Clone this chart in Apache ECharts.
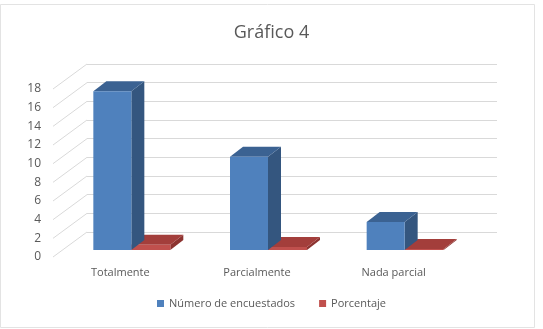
<!DOCTYPE html>
<html>
<head>
<meta charset="utf-8">
<script src="https://cdn.jsdelivr.net/npm/echarts@6/dist/echarts.min.js"></script>
<style>
  html, body { margin: 0; padding: 0; background: #fff; }
  #chart { width: 543px; height: 329px; }
</style>
</head>
<body>
<div id="chart"></div>
<script>
var categories = ['Totalmente', 'Parcialmente', 'Nada parcial'];
var encuestados = [17, 10, 3];
var porcentaje = [0.57, 0.33, 0.1];
var yTicks = [0, 2, 4, 6, 8, 10, 12, 14, 16, 18];

var chart = echarts.init(document.getElementById('chart'));

// bar drawn as a 3D box: front face + top + right side
function box(api, idx, value, left, width, colors) {
    var p = api.coord([idx, value]);
    var b = api.coord([idx, 0]);
    var dx = 13, dy = -10;
    var x0 = p[0] - 24 + left, x1 = x0 + width;
    var yt = p[1] + 18, yb = b[1] + 18;
    return {
        type: 'group',
        children: [
            { type: 'polygon', shape: { points: [[x1, yt], [x1 + dx, yt + dy], [x1 + dx, yb + dy], [x1, yb]] }, style: { fill: colors[1] } },
            { type: 'polygon', shape: { points: [[x0, yt], [x1, yt], [x1 + dx, yt + dy], [x0 + dx, yt + dy]] }, style: { fill: colors[2] } },
            { type: 'rect', shape: { x: x0, y: yt, width: width, height: Math.max(yb - yt, 0.5) }, style: { fill: colors[0] } }
        ]
    };
}

var option = {
    title: {
        text: 'Gráfico 4',
        left: 'center',
        top: 19,
        textStyle: { fontFamily: 'Open Sans', fontSize: 18, fontWeight: 'normal', color: '#595959' }
    },
    legend: {
        bottom: 15,
        left: 'center',
        itemWidth: 7,
        itemHeight: 7,
        itemGap: 24,
        icon: 'rect',
        textStyle: { fontFamily: 'Open Sans', fontSize: 11, color: '#595959' },
        data: [
            { name: 'Número de encuestados', itemStyle: { color: '#4f81bd' } },
            { name: 'Porcentaje', itemStyle: { color: '#c0504d' } }
        ]
    },
    graphic: [{
        type: 'rect',
        shape: { x: 0.5, y: 4.5, width: 534, height: 323 },
        style: { fill: 'none', stroke: '#e3e3e3', lineWidth: 1 },
        z: -1
    }],
    grid: [
        { left: 87, right: 46, top: 64, bottom: 97 },   // back wall
        { left: 53, right: 80, top: 89, bottom: 72 }    // front plane, for the value labels
    ],
    xAxis: [
        {
            type: 'category',
            gridIndex: 0,
            data: categories,
            axisLine: { show: false },
            axisTick: { show: false },
            axisLabel: {
                margin: 35,
                padding: [0, 70, 0, 0],
                fontFamily: 'Open Sans',
                fontSize: 11,
                color: '#595959'
            }
        },
        { type: 'category', gridIndex: 1, data: categories, show: false }
    ],
    yAxis: [
        {
            type: 'value',
            gridIndex: 0,
            min: 0,
            max: 18,
            interval: 2,
            axisLine: { show: false },
            axisTick: { show: false },
            axisLabel: { show: false },
            splitLine: { lineStyle: { color: '#d9d9d9', width: 1 } }
        },
        {
            type: 'value',
            gridIndex: 1,
            min: 0,
            max: 18,
            interval: 2,
            axisLine: { show: false },
            axisTick: { show: false },
            splitLine: { show: false },
            axisLabel: {
                margin: 12,
                fontFamily: 'Open Sans',
                fontSize: 12,
                color: '#595959'
            }
        }
    ],
    series: [
        {
            // side wall lines from the front labels to the back wall
            type: 'custom',
            silent: true,
            data: yTicks,
            encode: { x: -1, y: 0 },
            renderItem: function (params, api) {
                var p = api.coord([0, api.value(0)]);
                var x = params.coordSys.x;
                return {
                    type: 'line',
                    shape: { x1: x - 34, y1: p[1] + 25, x2: x, y2: p[1] },
                    style: { stroke: '#d9d9d9', lineWidth: 1 }
                };
            },
            z: 1
        },
        {
            name: 'Número de encuestados',
            type: 'custom',
            data: encuestados.map(function (v, i) { return [i, v]; }),
            itemStyle: { color: '#4f81bd' },
            renderItem: function (params, api) {
                return box(api, api.value(0), api.value(1), -38, 38, ['#4f81bd', '#34567f', '#3b6292']);
            },
            z: 3
        },
        {
            name: 'Porcentaje',
            type: 'custom',
            data: porcentaje.map(function (v, i) { return [i, v]; }),
            itemStyle: { color: '#c0504d' },
            renderItem: function (params, api) {
                return box(api, api.value(0), api.value(1), 0, 39, ['#c0504d', '#8c3330', '#a33e3b']);
            },
            z: 2
        }
    ]
};

chart.setOption(option);
</script>
</body>
</html>
